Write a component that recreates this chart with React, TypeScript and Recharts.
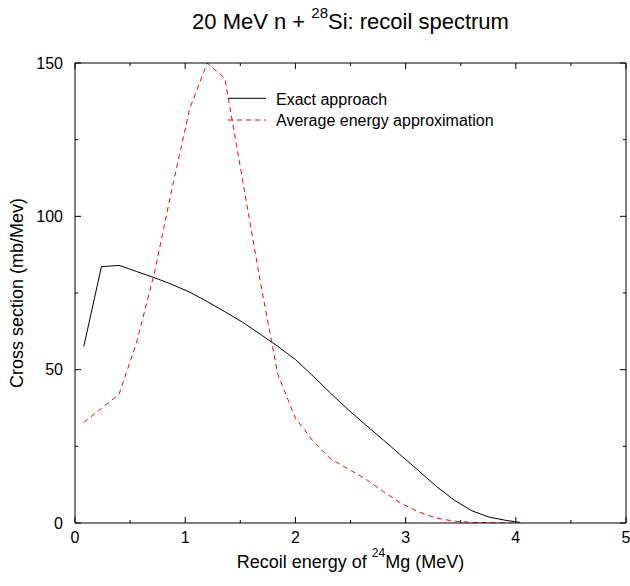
import React from 'react';
import { LineChart, Line, XAxis, YAxis, Legend } from 'recharts';

const energy = [0.08, 0.24, 0.4, 0.56, 0.72, 0.88, 1.04, 1.2, 1.36, 1.52, 1.68, 1.84, 2.0, 2.16, 2.32, 2.48, 2.64, 2.8, 2.96, 3.12, 3.28, 3.44, 3.6, 3.76, 3.92, 4.04];
const exactApproach = [57.6, 83.6, 84.0, 82.0, 80.0, 77.8, 75.3, 72.2, 68.9, 65.5, 61.6, 57.6, 53.3, 47.9, 42.3, 36.9, 31.9, 27.0, 22.0, 17.0, 11.9, 7.5, 4.0, 1.9, 0.8, 0.2];
const averageEnergy = [32.8, 37.4, 42.0, 59.0, 81.5, 109.0, 135.0, 150.0, 145.0, 112.0, 79.0, 48.5, 34.2, 26.7, 20.9, 17.6, 14.3, 10.2, 6.4, 3.6, 1.6, 0.6, 0.2, 0.1, 0.0, 0.0];
const xTicks = [0, 0.5, 1, 1.5, 2, 2.5, 3, 3.5, 4, 4.5, 5];
const yTicks = [0, 25, 50, 75, 100, 125, 150];
const seriesNames = ['Exact approach', 'Average energy approximation'];

const data = energy.map((e, i) => ({ e, exact: exactApproach[i], avg: averageEnergy[i] }));

const FONT = '"Liberation Sans", Arial, Helvetica, sans-serif';
const MAJOR = 6;
const MINOR = 3;

const BottomTick = (props: any) => {
  const { x, y, payload } = props;
  const v = payload.value;
  const major = Number.isInteger(v);
  return (
    <g>
      <line x1={x} y1={y} x2={x} y2={y - (major ? MAJOR : MINOR)} stroke="#000" strokeWidth={1} />
      {major && (
        <text x={x} y={y + 20} textAnchor="middle" fontSize={16} fontFamily={FONT} fill="#000">
          {v}
        </text>
      )}
    </g>
  );
};

const TopTick = (props: any) => {
  const { x, y, payload } = props;
  const major = Number.isInteger(payload.value);
  return <line x1={x} y1={y} x2={x} y2={y + (major ? MAJOR : MINOR)} stroke="#000" strokeWidth={1} />;
};

const LeftTick = (props: any) => {
  const { x, y, payload } = props;
  const v = payload.value;
  const major = v % 50 === 0;
  return (
    <g>
      <line x1={x} y1={y} x2={x + (major ? MAJOR : MINOR)} y2={y} stroke="#000" strokeWidth={1} />
      {major && (
        <text x={x - 12} y={y + 5.7} textAnchor="end" fontSize={16} fontFamily={FONT} fill="#000">
          {v}
        </text>
      )}
    </g>
  );
};

const RightTick = (props: any) => {
  const { x, y, payload } = props;
  const major = payload.value % 50 === 0;
  return <line x1={x} y1={y} x2={x - (major ? MAJOR : MINOR)} y2={y} stroke="#000" strokeWidth={1} />;
};

const XLabel = (props: any) => {
  const vb = props.viewBox || {};
  const cx = vb.x + vb.width / 2;
  const y = 568.3;
  return (
    <text x={cx} y={y} textAnchor="middle" fontSize={18} fontFamily={FONT} fill="#000">
      <tspan>Recoil energy of </tspan>
      <tspan fontSize={12} dy={-11.5}>24</tspan>
      <tspan dy={11.5}>Mg (MeV)</tspan>
    </text>
  );
};

const TitleLabel = (props: any) => {
  const vb = props.viewBox || {};
  const cx = vb.x + vb.width / 2;
  const y = 29.3;
  return (
    <text x={cx} y={y} textAnchor="middle" fontSize={22} fontFamily={FONT} fill="#000">
      <tspan>20 MeV n + </tspan>
      <tspan fontSize={15} dy={-11}>28</tspan>
      <tspan dy={11}>Si: recoil spectrum</tspan>
    </text>
  );
};

const YLabel = (props: any) => {
  const vb = props.viewBox || {};
  const cy = vb.y + vb.height / 2;
  const x = 23.3;
  return (
    <text x={x} y={cy} transform={`rotate(-90, ${x}, ${cy})`} textAnchor="middle" fontSize={18} fontFamily={FONT} fill="#000">
      Cross section (mb/Mev)
    </text>
  );
};

const LegendContent = () => (
  <svg width={300} height={45} style={{ display: 'block', overflow: 'visible' }}>
    <line x1={0} y1={10.3} x2={38} y2={10.3} stroke="#000" strokeWidth={1} />
    <text x={48} y={17} fontSize={16} fontFamily={FONT} fill="#000">{seriesNames[0]}</text>
    <line x1={0} y1={32} x2={38} y2={32} stroke="#ff0000" strokeWidth={1} strokeDasharray="5 4" />
    <text x={48} y={37.5} fontSize={16} fontFamily={FONT} fill="#000">{seriesNames[1]}</text>
  </svg>
);

export default function App() {
  return (
    <div style={{ position: 'absolute', left: 0, top: 0, width: 630, height: 586, background: '#fff' }}>
      <LineChart width={630} height={586} data={data} margin={{ top: 62, right: 3, bottom: 62, left: 74 }}>
        <XAxis
          dataKey="e"
          type="number"
          domain={[0, 5]}
          ticks={xTicks}
          interval={0}
          height={1}
          tickSize={0}
          tickMargin={0}
          tickLine={false}
          axisLine={{ stroke: '#000', strokeWidth: 1 }}
          tick={<BottomTick />}
          label={<XLabel />}
          allowDataOverflow
        />
        <XAxis
          xAxisId="top"
          orientation="top"
          dataKey="e"
          type="number"
          domain={[0, 5]}
          ticks={xTicks}
          interval={0}
          height={1}
          tickSize={0}
          tickMargin={0}
          tickLine={false}
          axisLine={{ stroke: '#000', strokeWidth: 1 }}
          tick={<TopTick />}
          label={<TitleLabel />}
          allowDataOverflow
        />
        <YAxis
          type="number"
          domain={[0, 150]}
          ticks={yTicks}
          interval={0}
          width={1}
          tickSize={0}
          tickMargin={0}
          tickLine={false}
          axisLine={{ stroke: '#000', strokeWidth: 1 }}
          tick={<LeftTick />}
          label={<YLabel />}
          allowDataOverflow
        />
        <YAxis
          yAxisId="right"
          orientation="right"
          type="number"
          domain={[0, 150]}
          ticks={yTicks}
          interval={0}
          width={1}
          tickSize={0}
          tickMargin={0}
          tickLine={false}
          axisLine={{ stroke: '#000', strokeWidth: 1 }}
          tick={<RightTick />}
          allowDataOverflow
        />
        <Legend
          layout="horizontal"
          verticalAlign="middle"
          align="center"
          content={<LegendContent />}
          wrapperStyle={{ left: 228, top: 88, width: 300, height: 45 }}
        />
        <Line
          type="linear"
          dataKey="exact"
          name={seriesNames[0]}
          stroke="#000"
          strokeWidth={1}
          dot={false}
          activeDot={false}
          isAnimationActive={false}
        />
        <Line
          type="linear"
          dataKey="avg"
          name={seriesNames[1]}
          stroke="#ff0000"
          strokeWidth={1}
          strokeDasharray="5 4"
          dot={false}
          activeDot={false}
          isAnimationActive={false}
        />
      </LineChart>
    </div>
  );
}
